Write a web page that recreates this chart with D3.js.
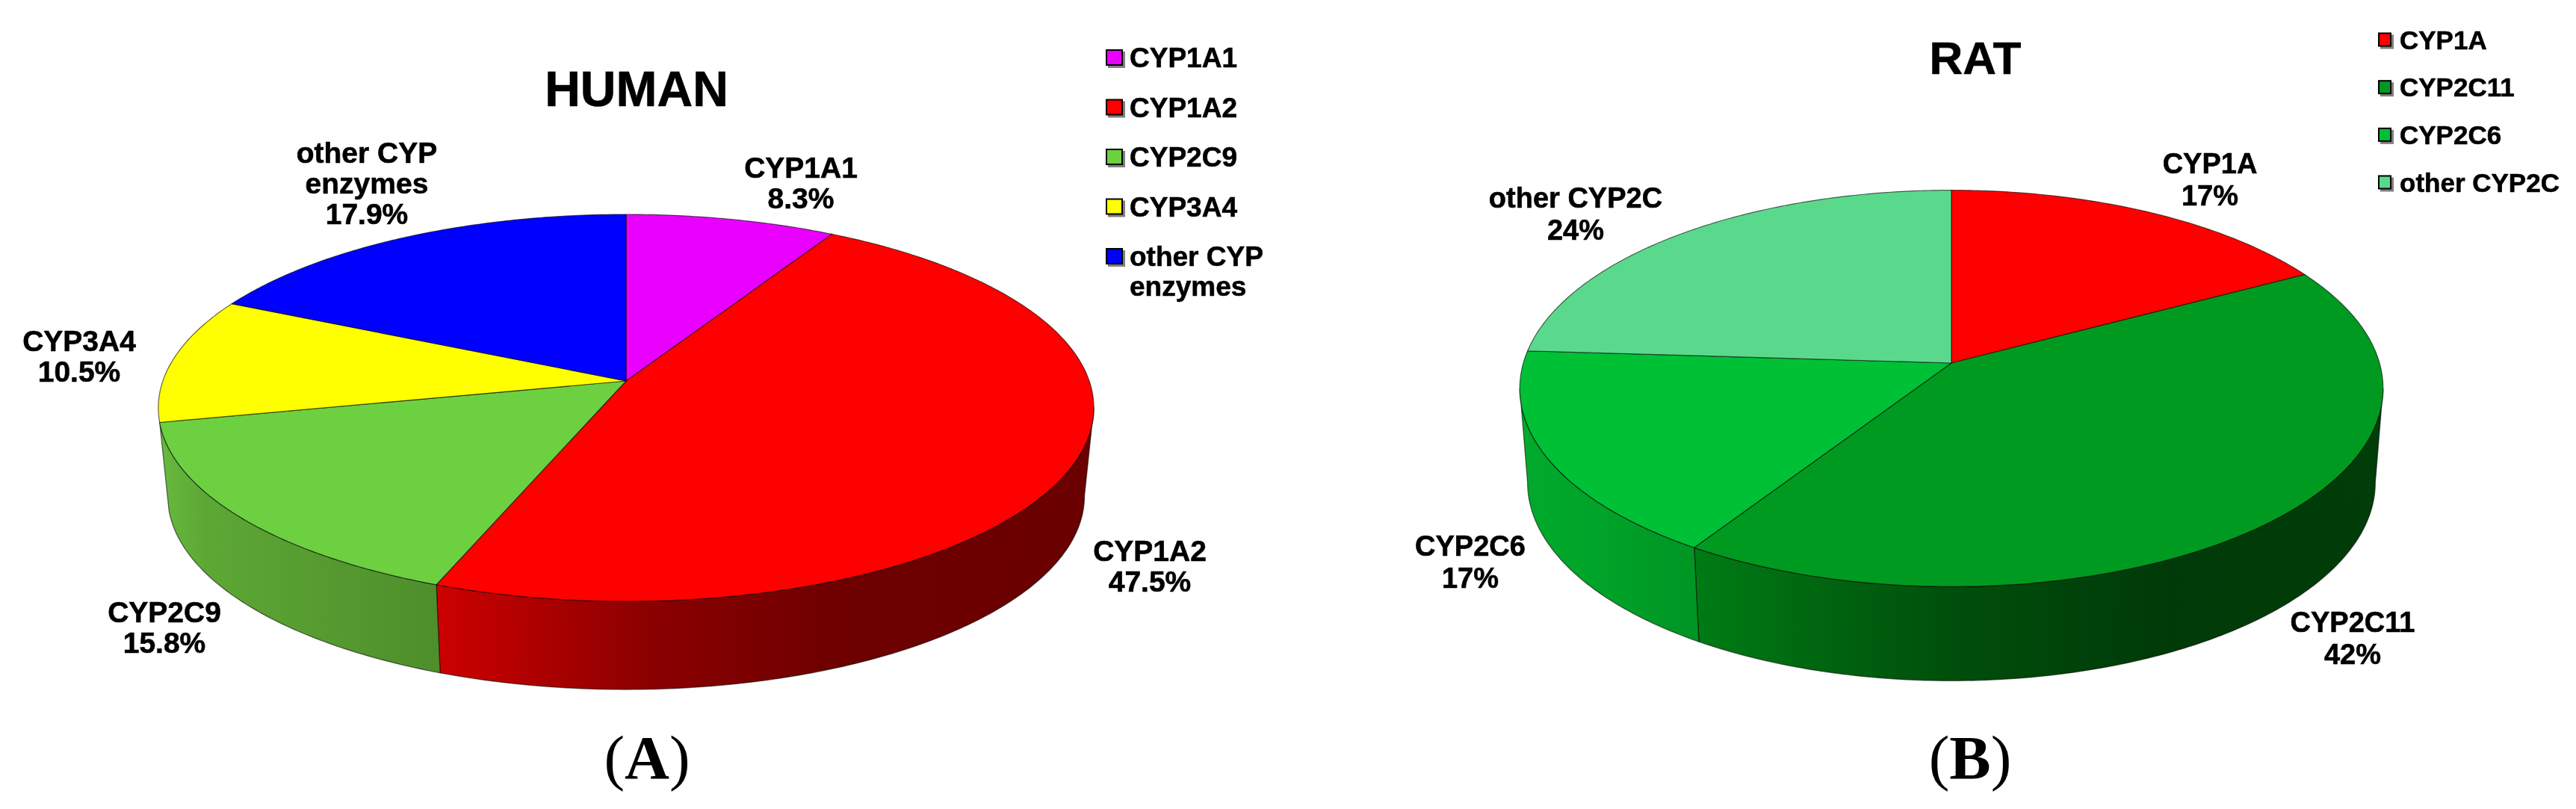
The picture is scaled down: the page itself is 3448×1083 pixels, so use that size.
<!DOCTYPE html>
<html><head><meta charset="utf-8">
<script src="https://cdn.jsdelivr.net/npm/d3@7"></script>
<style>
html,body{margin:0;padding:0;background:#fff;overflow:hidden}
svg{display:block}
text{font-family:"Liberation Sans",Arial,sans-serif;font-weight:700;fill:#000}
.soft{filter:blur(.7px)}
.soft text{stroke:#000;stroke-width:.6px}
.cap{font-family:"Liberation Serif","Times New Roman",serif;font-weight:400;filter:none}
</style></head><body>
<svg id="c" width="3448" height="1083"></svg>
<script>
// ---------- data ----------
const humanTitle = "HUMAN";
const humanCategories = ["CYP1A1","CYP1A2","CYP2C9","CYP3A4","other CYP enzymes"];
const humanValues = [8.3,47.5,15.8,10.5,17.9];
const humanColors = ["#ea00ff","#ff0000","#6dd041","#ffff00","#0000ff"];
const humanLabelLines = [["CYP1A1","8.3%"],["CYP1A2","47.5%"],["CYP2C9","15.8%"],["CYP3A4","10.5%"],["other CYP","enzymes","17.9%"]];
const humanLegendLines = [["CYP1A1"],["CYP1A2"],["CYP2C9"],["CYP3A4"],["other CYP","enzymes"]];

const ratTitle = "RAT";
const ratCategories = ["CYP1A","CYP2C11","CYP2C6","other CYP2C"];
const ratValues = [17,42,17,24];
const ratColors = ["#ff0000","#009a20","#00c036","#5ad98c"];
const ratLabelLines = [["CYP1A","17%"],["CYP2C11","42%"],["CYP2C6","17%"],["other CYP2C","24%"]];
const ratLegendLines = [["CYP1A"],["CYP2C11"],["CYP2C6"],["other CYP2C"]];

// ---------- wall shading (by slice index) ----------
const humanWalls = {1:["#cc0000","#8c0000","#6e0000","#6a0000"],2:["#68ba3e","#5da835","#4e8e2b","#4a8828"]};
const ratWalls = {1:["#007c14","#004e0b","#003a08","#003d08"],2:["#00aa2c","#00a228","#009524","#008f20"]};

// ---------- layout ----------
const humanLayout = {cx:838,cy:510,R:620,B:254,k:.139,depth:118,shrink:.98,
  gradX:[212,1465],wallStops:{1:[[.3,0],[.52,1],[.72,2],[1,3]],2:[[0,0],[.05,1],[.3,2],[1,3]]},
  title:{x:852,y:142,size:66},cap:{x:866,y:1042,t:"A"},
  labels:[[1072,224],[1539,737],[220,819],[106,456],[491,204]],labelSize:39,labelStep:41,
  legend:{sw:[1480,23,22],tx:1512,y:[77,343],size:37,step:40}};
const ratLayout = {cx:2612,cy:486,R:573,B:261,k:.128,depth:126,shrink:.982,
  gradX:[2037,3192],wallStops:{1:[[.2,0],[.5,1],[.75,2],[1,3]],2:[[0,0],[.1,1],[.2,2],[1,3]]},
  title:{x:2644,y:99,size:62},cap:{x:2637,y:1042,t:"B"},
  labels:[[2958,218],[3149,832],[1968,730],[2109,264]],labelSize:38,labelStep:43,
  legend:{sw:[3183,18,19],tx:3212,y:[53,244],size:35,step:40}};

const svg = d3.select("#c"), defs = svg.append("defs");
const line = d3.line();
let gid = 0;

function drawPie(cats, vals, colors, wallColors, labels, legendRows, title, L) {
  const pie = d3.pie().sort(null).value(d=>d)(vals);
  // perspective projection of the unit disc
  const top = a => { const u=Math.sin(a), v=-Math.cos(a), w=1-L.k*v;
    return [L.cx+L.R*u/w, L.cy+L.B*v/w]; };
  const bot = a => { const u=Math.sin(a), v=-Math.cos(a), w=1-L.k*v;
    return [L.cx+L.R*L.shrink*u/w, L.cy+L.depth+L.B*v/w]; };
  const arcPts = (f,a0,a1) => { const n=Math.max(2,Math.ceil(Math.abs(a1-a0)/0.01));
    return d3.range(n+1).map(i=>f(a0+(a1-a0)*i/n)); };
  const g = svg.append("g");
  // silhouette of the cylinder: where the projected disc is widest
  const loA = Math.acos(-L.k), hiA = 2*Math.PI-loA;

  // walls
  pie.forEach((s,i)=>{
    const a0=Math.max(s.startAngle,loA), a1=Math.min(s.endAngle,hiA);
    if(a1<=a0 || !wallColors[i]) return;
    const id="wall"+(gid++);
    const gr=defs.append("linearGradient").attr("id",id).attr("gradientUnits","userSpaceOnUse")
      .attr("x1",L.gradX[0]).attr("x2",L.gradX[1]).attr("y1",0).attr("y2",0);
    L.wallStops[i].forEach(st=>gr.append("stop").attr("offset",st[0]).attr("stop-color",wallColors[i][st[1]]));
    const pts=arcPts(top,a0,a1).concat(arcPts(bot,a1,a0));
    g.append("path").attr("d",line(pts)+"Z").attr("fill",`url(#${id})`)
      .attr("stroke","#000").attr("stroke-opacity",.55).attr("stroke-width",1.3).attr("stroke-linejoin","round");
  });
  // top face
  pie.forEach((s,i)=>{
    const pts=[[L.cx,L.cy]].concat(arcPts(top,s.startAngle,s.endAngle));
    g.append("path").attr("d",line(pts)+"Z").attr("fill",colors[i])
      .attr("stroke","#000").attr("stroke-opacity",.6).attr("stroke-width",1.2).attr("stroke-linejoin","round");
  });

  // data labels
  const soft=svg.append("g").attr("class","soft");
  soft.append("text").attr("x",L.title.x).attr("y",L.title.y).attr("text-anchor","middle")
    .attr("font-size",L.title.size).text(title);
  labels.forEach((lines,i)=>{
    const [x,y]=L.labels[i];
    lines.forEach((t,j)=>soft.append("text").attr("x",x).attr("y",y+j*L.labelStep+L.labelSize*.36)
      .attr("text-anchor","middle").attr("font-size",L.labelSize).text(t));
  });

  // legend
  const ly=d3.scalePoint().domain(cats).range(L.legend.y);
  cats.forEach((c,i)=>{
    const yc=ly(c), [sx,sw,sh]=L.legend.sw;
    g.append("rect").attr("x",sx+3).attr("y",yc-sh/2+3).attr("width",sw).attr("height",sh).attr("fill","#7f7f7f");
    g.append("rect").attr("x",sx+1).attr("y",yc-sh/2+1).attr("width",sw-2).attr("height",sh-2)
      .attr("fill",colors[i]).attr("stroke","#000").attr("stroke-width",2);
    legendRows[i].forEach((t,j)=>soft.append("text").attr("x",L.legend.tx)
      .attr("y",yc+L.legend.size*.36+j*L.legend.step).attr("font-size",L.legend.size).text(t));
  });

  // panel caption
  const cap=svg.append("text").attr("class","cap").attr("x",L.cap.x).attr("y",L.cap.y)
    .attr("text-anchor","middle").attr("font-size",83);
  cap.append("tspan").text("(");
  cap.append("tspan").attr("font-weight",700).style("font-weight",700).text(L.cap.t);
  cap.append("tspan").text(")");
}

drawPie(humanCategories,humanValues,humanColors,humanWalls,humanLabelLines,humanLegendLines,humanTitle,humanLayout);
drawPie(ratCategories,ratValues,ratColors,ratWalls,ratLabelLines,ratLegendLines,ratTitle,ratLayout);
</script></body></html>
